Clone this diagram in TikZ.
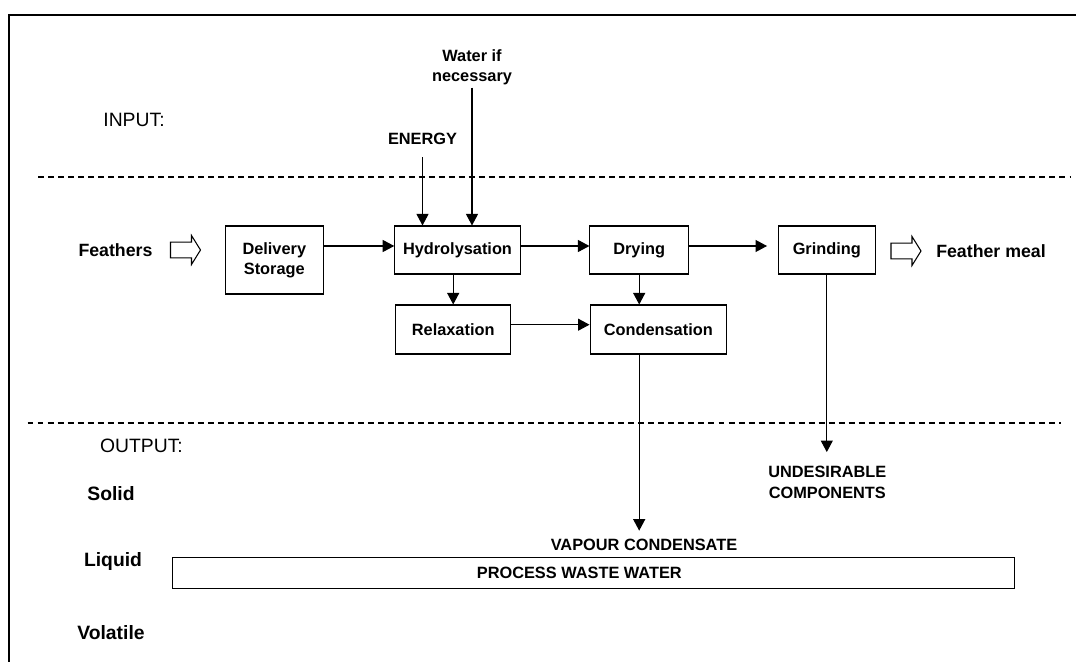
\documentclass[tikz,border=0pt]{standalone}
\usepackage{fontspec}
\setmainfont{Liberation Sans}
\usetikzlibrary{arrows.meta}

\begin{document}
\begin{tikzpicture}[x=0.02cm, y=-0.02cm,
    stepbox/.style={draw, line width=0.6pt, inner sep=0pt, align=center,
        font=\fontsize{9.3}{11.5}\selectfont\bfseries},
    tag/.style={inner sep=0pt, align=center, font=\fontsize{9.3}{11.5}\selectfont\bfseries},
    side/.style={inner sep=0pt, font=\fontsize{11}{13}\selectfont\bfseries},
    zone/.style={inner sep=0pt, font=\fontsize{11}{13}\selectfont},
    flow/.style={line width=0.6pt, -{Triangle[length=2.3mm,width=2.4mm]}},
    divider/.style={line width=0.6pt, dash pattern=on 3.4pt off 2.3pt},
    openarrow/.style={draw, line width=0.6pt, line join=miter}]
    \useasboundingbox (0,0) rectangle (1076,662);

    % Frame
    \draw[line width=1.15pt] (9.3,662) -- (9.3,15) -- (1076,15);

    % Input / output zones
    \draw[divider] (38,177) -- (1070,177);
    \draw[divider] (27.5,423) -- (1061,423);
    \node[zone] (input) at (134,120) {INPUT:};
    \node[zone] (output) at (141.5,446) {OUTPUT:};
    \node[side] (solid) at (111,494) {Solid};
    \node[side] (liquid) at (113,562) {Liquid};
    \node[side] (volatile) at (111,633) {Volatile};

    % Process steps
    \node[stepbox, minimum width=1.95cm, minimum height=1.36cm] (delivery) at (274.3,260) {Delivery\\Storage};
    \node[stepbox, minimum width=2.51cm, minimum height=0.96cm] (hydro) at (457.5,250) {Hydrolysation};
    \node[stepbox, minimum width=1.97cm, minimum height=0.96cm] (drying) at (639.2,250) {Drying};
    \node[stepbox, minimum width=1.95cm, minimum height=0.96cm] (grinding) at (826.8,250) {Grinding};
    \node[stepbox, minimum width=2.3cm, minimum height=0.98cm] (relax) at (453.2,329.5) {Relaxation};
    \node[stepbox, minimum width=2.73cm, minimum height=0.98cm] (cond) at (658.3,329.5) {Condensation};
    \node[stepbox, minimum width=16.85cm, minimum height=0.61cm] (waste) at (593.4,573) {};
    \node[tag] (wastetext) at (579.3,573.3) {PROCESS WASTE WATER};

    % Inputs and products
    \node[side, font=\fontsize{10.1}{12}\selectfont\bfseries] (feathers) at (115.5,250) {Feathers};
    \node[side, font=\fontsize{10.1}{12}\selectfont\bfseries] (meal) at (991,251) {Feather meal};
    \node[tag] (energy) at (422.5,139.3) {ENERGY};
    \node[tag] (water) at (472,67.5) {Water if\\necessary};
    \node[tag] (undesirable) at (827.3,482.3) {UNDESIRABLE\\COMPONENTS};
    \node[tag] (vapour) at (644,545.3) {VAPOUR CONDENSATE};

    % Open arrows
    \foreach \ax/\ay in {170.5/250, 891/251} {
        \draw[openarrow] (\ax,\ay) ++(0,-7.8) -- ++(21,0) -- ++(0,-6.7) -- ++(9,14.5)
            -- ++(-9,14.5) -- ++(0,-6.7) -- ++(-21,0) -- cycle;
    }

    % Flows
    \coordinate (row) at (0,246);
    \coordinate (low) at (0,324.7);
    \draw[flow] (delivery.east |- row) -- (hydro.west |- row);
    \draw[flow] (hydro.east |- row) -- (drying.west |- row);
    \draw[flow, shorten >=0.21cm] (drying.east |- row) -- (grinding.west |- row);
    \draw[flow, shorten <=0.24cm] (energy.south) -- (energy.south |- hydro.north);
    \draw[flow, shorten <=0.04cm] (water.south) -- (water.south |- hydro.north);
    \draw[flow] (relax.north |- hydro.south) -- (relax.north);
    \draw[flow] (drying.south) -- (drying.south |- cond.north);
    \draw[flow] (relax.east |- low) -- (cond.west |- low);
    \draw[flow, shorten >=0.17cm] (cond.south -| drying.south) -- (vapour.north -| drying.south);
    \draw[flow, shorten >=0.28cm] (grinding.south) -- (grinding.south |- undesirable.north);
\end{tikzpicture}
\end{document}
